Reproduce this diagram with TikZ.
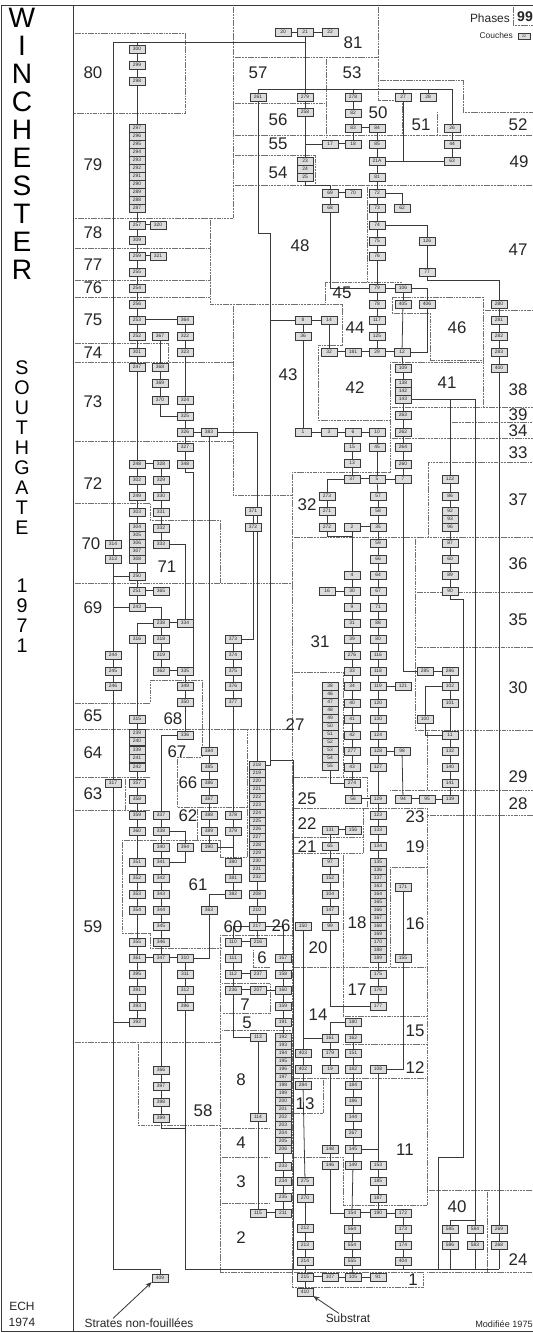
\documentclass[tikz,border=0pt]{standalone}
\usepackage{fontspec}
\setmainfont{Liberation Sans}
\usetikzlibrary{arrows.meta,backgrounds}
\definecolor{MatGrey}{HTML}{3A3A3A}
\definecolor{MatFill}{HTML}{DCDCDC}
\definecolor{MatDots}{HTML}{707070}

\tikzset{
  ctx/.style={draw=MatGrey, fill=MatFill, line width=0.7pt, minimum width=0.8cm,
    minimum height=0.38cm, inner sep=0pt, text=black!85, font=\fontsize{7}{7}\selectfont},
  link/.style={draw=MatGrey, line width=1.1pt},
  samephase/.style={draw=MatGrey, double=white, double distance=1.2pt, line width=0.7pt},
  bound/.style={draw=MatDots, line width=0.9pt, dash pattern=on 2pt off 1pt on 0.6pt off 1pt},
  phase/.style={inner sep=0pt, text=black!85, font=\fontsize{24}{24}\selectfont},
  bigletter/.style={inner sep=0pt, font=\fontsize{40}{40}\selectfont},
  midletter/.style={inner sep=0pt, font=\fontsize{28}{28}\selectfont},
  note/.style={inner sep=0pt, text=black!85},
}

\begin{document}
\begin{tikzpicture}[x=0.05cm, y=-0.05cm]
\useasboundingbox (0,0) rectangle (533,1333);

% Frame and title column
\draw[MatGrey, line width=1pt] (1,1331) -- (1,5) -- (533,5);
\draw[MatGrey, line width=1pt] (1,1331) -- (533,1331);
\draw[MatGrey, line width=1pt] (73,5) -- (73,1331);
\foreach \l [count=\i] in {W,I,N,C,H,E,S,T,E,R}
  \node[bigletter] (w\i) at (22,{18+28*(\i-1)}) {\l};
\foreach \l [count=\i] in {S,O,U,T,H,G,A,T,E}
  \node[midletter] (s\i) at (22,{368+20*(\i-1)}) {\l};
\foreach \l [count=\i] in {1,9,7,1}
  \node[midletter] (y\i) at (22,{586+20*(\i-1)}) {\l};
\node[note, font=\fontsize{17}{17}\selectfont] (ech) at (22,1306) {ECH};
\node[note, font=\fontsize{17}{17}\selectfont] (year) at (22,1322) {1974};

% Legend
\node[note, anchor=east, font=\fontsize{17}{17}\selectfont] (phases) at (510,18) {Phases};
\node[note, font=\bfseries\fontsize{20}{20}\selectfont] (p99) at (525,17) {99};
\node[note, anchor=east, font=\fontsize{12}{12}\selectfont] (couches) at (513,35) {Couches};
\node[ctx, minimum width=0.6cm, minimum height=0.3cm, font=\fontsize{5}{5}\selectfont] (legctx) at (524,36) {22};

% Contexts (couches)
\foreach \n/\x/\y in {
  20/283/32, 21/305/32, 22/330/32, 300/137/49, 299/137/65, 298/137/81,
  261/258/97, 279/305/97, 258/305/112, 278/353/97, 82/353/113, 83/353/128, 84/377/128,
  17/330/144, 18/353/144, 85/377/144, 21A/377/161, 81/377/177,
  27/403/97, 28/428/97, 26/452/128, 44/452/144, 63/452/161,
  23/305/161, 24/305/169, 25/305/177,
  69/330/193, 70/353/193, 72/377/193, 68/330/208, 73/377/208, 62/402/208,
  74/377/225, 75/377/241, 76/377/256, 126/427/241, 77/427/272,
  79/377/288, 78/377/304, 117/377/320, 125/377/336,
  106/403/288, 405/403/304, 406/427/304,
  280/499/304, 281/499/320, 282/499/336, 283/499/352, 400/499/368,
  8/303/320, 14/329/320, 36/303/336, 32/329/352, 181/353/352, 29/377/352, 12/402/352,
  109/403/368, 138/403/383, 142/403/391, 143/403/399, 263/403/415, 262/403/432,
  1/303/432, 3/329/432, 6/353/432, 10/377/432,
  15/352/447, 45/377/447, 264/403/447, 13/352/463, 260/403/464,
  37/352/479, 5/377/479, 7/403/479,
  257/137/225, 320/158/225, 309/137/240, 259/137/256, 321/158/256,
  255/137/272, 254/137/288, 256/137/304, 253/137/320, 364/185/320,
  252/137/336, 367/160/336, 322/185/336, 301/137/352, 323/185/352,
  247/137/367, 368/160/367, 369/160/383, 370/160/400, 324/185/400,
  325/185/416, 326/185/432, 383/209/432, 327/185/447,
  248/137/464, 328/161/464, 348/185/464, 302/137/480, 329/161/480,
  249/137/496, 330/161/496, 303/137/512, 331/161/512,
  304/137/527, 305/137/535, 306/137/543, 307/137/551, 308/137/559,
  332/161/528, 333/161/544, 314/113/544, 313/113/559,
  250/137/576, 251/137/591, 365/161/591, 243/137/607,
  238/161/623, 334/185/623, 316/137/639, 318/161/639,
  244/113/655, 319/161/655, 371/253/511, 372/253/527, 373/233/639, 374/233/655,
  245/113/671, 362/161/671, 335/185/671, 375/233/671,
  246/113/686, 349/185/686, 376/233/686, 350/185/702, 377/233/702,
  315/137/719, 336/185/735,
  239/137/733, 240/137/741, 339/137/750, 241/137/758, 242/137/767,
  384/209/751, 385/209/767, 386/209/783, 387/209/799,
  317/113/783, 357/137/783, 358/137/799,
  359/137/815, 337/161/815, 388/209/815, 378/233/815,
  360/137/831, 338/161/831, 389/209/831, 379/233/831,
  340/161/847, 394/185/847, 390/209/847,
  351/137/862, 341/161/862, 380/233/862,
  352/137/878, 342/161/878, 381/233/878,
  353/137/894, 343/161/894, 382/233/894,
  354/137/910, 344/161/910, 363/209/910, 345/161/926,
  355/137/942, 346/161/942, 361/137/958, 347/161/958, 310/185/958,
  395/137/974, 311/185/974, 391/137/990, 312/185/990,
  393/137/1006, 396/185/1006, 392/137/1022,
  366/161/1070, 397/161/1086, 398/161/1102, 399/161/1118,
  208/257/894, 210/257/910, 217/257/926,
  110/233/942, 216/258/942, 111/233/958, 157/283/958,
  112/233/974, 237/258/974, 158/283/974,
  236/233/990, 207/258/990, 160/283/990, 159/283/1006, 191/283/1022,
  113/258/1037, 114/258/1117,
  233/283/1166, 234/283/1181, 235/283/1197, 115/258/1213, 211/283/1213,
  273/327/496, 271/327/511, 272/327/527, 2/352/527,
  57/378/496, 58/378/511, 35/378/527, 59/378/543, 66/378/559, 64/378/575,
  67/378/591, 71/378/607, 88/378/623, 80/378/639, 116/378/655,
  4/352/575, 16/327/591, 30/352/591, 9/352/607, 31/352/623, 39/352/639, 276/352/655,
  122/450/479, 86/450/496, 92/450/511, 93/450/519, 96/450/527,
  87/450/543, 60/450/559, 89/450/575, 90/450/591,
  33/352/671, 118/378/671, 285/425/671, 286/450/671,
  34/352/686, 119/378/686, 121/403/686, 102/450/686,
  40/352/703, 120/378/703, 101/450/703,
  41/352/719, 130/378/719, 100/425/719,
  42/352/735, 124/378/735, 11/450/735,
  277/352/751, 128/378/751, 98/402/751, 132/450/751,
  43/352/767, 127/378/767, 140/450/767, 274/352/783, 141/450/783,
  56/353/799, 129/378/799, 94/403/799, 95/427/799, 139/450/799,
  123/378/815, 131/330/830, 156/353/830, 133/378/830,
  65/330/846, 134/378/846, 97/330/862, 135/378/862, 136/378/870, 137/378/878, 152/330/878,
  171/403/887, 155/403/958, 104/330/894, 147/330/910, 99/330/926, 150/303/926,
  175/378/974, 176/378/990, 177/378/1006,
  180/353/1022, 161/330/1038, 162/353/1038,
  403/303/1053, 179/330/1053, 151/353/1053,
  402/303/1069, 19/330/1069, 182/353/1069, 108/378/1069,
  284/303/1085, 184/353/1085, 186/353/1101, 144/353/1117, 267/353/1133,
  148/330/1149, 145/353/1149, 146/330/1165, 149/353/1165, 153/378/1165,
  275/305/1181, 270/305/1198, 185/378/1181, 187/378/1198,
  154/352/1213, 190/378/1213, 172/403/1213,
  212/305/1228, 213/305/1245, 214/305/1261,
  564/352/1229, 554/352/1245, 555/352/1261,
  173/403/1229, 174/403/1245, 404/403/1261,
  215/305/1277, 107/330/1277, 105/353/1277, 91/378/1277,
  410/305/1292, 409/160/1278,
  585/450/1229, 584/475/1229, 269/499/1229,
  586/450/1245, 583/475/1245, 268/499/1245}
  \node[ctx] (c\n) at (\x,\y) {\n};

% Stacked contexts
\foreach \n [count=\k from 0] in {297,296,295,294,293,292,291,290,289,288,287}
  \node[ctx] (c\n) at (137,{128+8*\k}) {\n};
\foreach \n [count=\k from 0] in {218,219,220,221,222,223,224,225,226,227,228,229,230,231,232}
  \node[ctx] (c\n) at (257,{765+8*\k}) {\n};
\foreach \n [count=\k from 0] in {192,193,194,195,196,197,198,199,200,201,202,203,204,205,206}
  \node[ctx] (c\n) at (283,{1037+8*\k}) {\n};
\foreach \n [count=\k from 0] in {38,46,47,48,49,50,51,52,53,54,55}
  \node[ctx] (c\n) at (330,{686+8*\k}) {\n};
\foreach \n [count=\k from 0] in {163,164,165,166,167,168,169,170,188,189}
  \node[ctx] (c\n) at (378,{886+8*\k}) {\n};

% Phase numbers
\foreach \p/\x/\y in {
  80/93/73, 79/93/165, 78/93/233, 77/93/265, 76/93/288, 75/93/320, 74/93/353, 73/93/402,
  72/93/484, 70/91/544, 69/93/608, 65/93/716, 64/93/753, 63/93/794, 59/93/927,
  57/258/73, 56/278/120, 55/278/144, 54/278/173, 48/300/246, 43/288/375,
  71/167/567, 68/173/719, 67/177/752, 66/188/783, 62/188/816, 61/198/885,
  60/233/927, 26/281/926, 6/262/958, 7/245/1005, 5/247/1023, 8/241/1080, 58/203/1111,
  4/241/1143, 3/241/1182, 2/241/1238,
  81/353/43, 53/352/73, 50/378/113, 51/421/125, 52/518/125, 49/519/162, 47/518/250,
  45/342/293, 44/355/328, 46/457/328, 42/355/388, 41/447/383,
  38/518/390, 39/518/415, 34/518/431, 33/518/453, 37/518/500, 36/518/564, 35/518/620,
  32/307/505, 31/320/642, 30/518/688, 27/295/725, 29/518/777, 28/518/804,
  25/307/799, 23/415/817, 22/307/824, 21/307/847, 19/415/847,
  20/318/948, 18/357/923, 16/415/924, 17/357/990, 14/318/1015, 15/415/1031,
  12/415/1068, 13/305/1104, 11/405/1150, 40/457/1207, 24/518/1260, 1/413/1280}
  \node[phase] (p\p) at (\x,\y) {\p};

% Notes at the foot
\node[note, font=\fontsize{17}{17}\selectfont] (strates) at (139,1323) {Strates non-fouillées};
\node[note, font=\fontsize{17}{17}\selectfont] (substrat) at (348,1318) {Substrat};
\node[note, font=\fontsize{13}{13}\selectfont] (modif) at (504,1324) {Modifiée 1975};
\draw[MatGrey, line width=1.2pt, -{Stealth[length=9pt,width=7pt]}] ([xshift=-1.3cm]strates.north) -- (c409.south west);
\draw[MatGrey, line width=1.2pt, -{Stealth[length=9pt,width=7pt]}] ([xshift=-0.45cm]substrat.north) -- (c410.south east);

\begin{scope}[on background layer]
% Phase boundaries
\draw[bound] (73,33) -- (185,33) -- (185,113) -- (73,113);
\draw[bound] (233,5) -- (233,218) -- (73,218);
\draw[bound] (73,248) -- (210,248);
\draw[bound] (73,280) -- (210,280);
\draw[bound] (73,297) -- (210,297);
\draw[bound] (210,218) -- (210,304) -- (342,304) -- (342,345) -- (318,345) -- (318,420) -- (390,420);
\draw[bound] (73,343) -- (168,343) -- (168,362);
\draw[bound] (73,362) -- (233,362);
\draw[bound] (73,441) -- (233,441);
\draw[bound] (233,304) -- (233,495) -- (292,495);
\draw[bound] (73,503) -- (150,503) -- (150,520) -- (220,520) -- (220,583);
\draw[bound] (73,583) -- (292,583);
\draw[bound] (292,472) -- (292,1287);
\draw[bound] (390,362) -- (390,472) -- (292,472);
\draw[bound] (392,313) -- (392,297) -- (483,297) -- (483,407);
\draw[bound] (392,313) -- (430,313) -- (430,360) -- (483,360);
\draw[bound] (390,362) -- (483,362);
\draw[bound] (390,407) -- (533,407);
\draw[bound] (483,310) -- (533,310);
\draw[bound] (450,422) -- (533,422);
\draw[bound] (390,438) -- (533,438);
\draw[bound] (428,537) -- (428,462) -- (533,462);
\draw[bound] (292,537) -- (533,537);
\draw[bound] (415,592) -- (533,592);
\draw[bound] (415,647) -- (533,647);
\draw[bound] (415,537) -- (415,730) -- (533,730);
\draw[bound] (427,730) -- (427,790);
\draw[bound] (390,790) -- (533,790);
\draw[bound] (428,815) -- (533,815);
\draw[bound] (292,672) -- (343,672) -- (343,777);
\draw[bound] (292,777) -- (367,777) -- (367,808);
\draw[bound] (292,808) -- (427,808) -- (427,1205) -- (343,1205) -- (343,1157) -- (292,1157);
\draw[bound] (292,837) -- (363,837);
\draw[bound] (292,853) -- (363,853) -- (363,808);
\draw[bound] (390,867) -- (427,867);
\draw[bound] (390,867) -- (390,967);
\draw[bound] (343,853) -- (343,1016);
\draw[bound] (292,967) -- (427,967);
\draw[bound] (343,1016) -- (427,1016);
\draw[bound] (343,1044) -- (427,1044);
\draw[bound] (292,1078) -- (427,1078);
\draw[bound] (292,1113) -- (323,1113) -- (323,1078);
\draw[bound] (292,1272) -- (423,1272) -- (423,1287) -- (292,1287);
\draw[bound] (427,1190) -- (533,1190);
\draw[bound] (487,1190) -- (487,1272);
\draw[bound] (427,1272) -- (533,1272);
\draw[bound] (73,703) -- (150,703) -- (150,680) -- (202,680) -- (202,757) -- (177,757);
\draw[bound] (73,729) -- (292,729);
\draw[bound] (73,777) -- (150,777);
\draw[bound] (73,810) -- (150,810);
\draw[bound] (125,777) -- (125,810);
\draw[bound] (177,757) -- (177,807) -- (247,807) -- (247,729);
\draw[bound] (197,807) -- (197,840) -- (220,840) -- (220,857) -- (247,857) -- (247,807);
\draw[bound] (122,840) -- (197,840);
\draw[bound] (122,840) -- (122,933) -- (150,933) -- (150,948) -- (222,948);
\draw[bound] (220,935) -- (292,935);
\draw[bound] (220,935) -- (220,1272) -- (292,1272);
\draw[bound] (73,1042) -- (220,1042);
\draw[bound] (138,1042) -- (138,1125) -- (220,1125);
\draw[bound] (253,950) -- (253,967) -- (270,967);
\draw[bound] (222,983) -- (270,983) -- (270,1013) -- (222,1013);
\draw[bound] (222,1030) -- (292,1030);
\draw[bound] (220,1128) -- (270,1128);
\draw[bound] (220,1157) -- (270,1157);
\draw[bound] (220,1203) -- (270,1203);
\draw[bound] (233,57) -- (378,57);
\draw[bound] (378,5) -- (378,100) -- (402,100) -- (402,135);
\draw[bound] (326,57) -- (326,137);
\draw[bound] (233,103) -- (326,103);
\draw[bound] (233,135) -- (533,135);
\draw[bound] (233,155) -- (315,155) -- (315,185);
\draw[bound] (233,185) -- (533,185);
\draw[bound] (378,80) -- (463,80) -- (463,112) -- (533,112);
\draw[bound] (437,112) -- (437,135);
\draw[bound] (367,185) -- (367,282);
\draw[bound] (325,303) -- (325,282) -- (402,282);
\draw[bound] (513,5) -- (513,25) -- (533,25);

% Straight links
\foreach \a/\b in {
  20/21, 21/22, 21/279, 279/258, 258/23, 23/24, 24/25,
  300/299, 299/298, 298/297, 297/287, 287/257, 257/309, 309/259, 259/255, 255/254,
  254/256, 256/253, 253/252, 252/301, 301/247, 247/248, 248/302, 302/249, 249/303,
  303/304, 304/308, 308/250, 250/251, 251/243,
  367/368, 368/369, 369/370, 364/322, 322/323, 323/324, 324/325, 325/326, 326/327, 327/348,
  328/329, 329/330, 330/331, 331/332, 332/333, 314/313, 238/318, 318/319, 319/362,
  335/349, 349/350, 350/336, 316/315, 315/239, 239/242, 242/357, 357/358, 358/359,
  359/360, 360/351, 351/352, 352/353, 353/354, 354/355, 355/361, 361/395, 395/391,
  391/393, 393/392, 337/338, 338/340, 340/341, 341/342, 342/343, 343/344, 344/345,
  345/346, 346/347, 347/366, 366/397, 397/398, 398/399, 310/311, 311/312, 312/396,
  383/384, 384/390, 373/382, 371/372, 218/232, 232/208, 208/210, 210/217, 217/216,
  110/111, 111/112, 112/236, 157/158, 158/160, 160/159, 159/191, 191/192, 192/206,
  206/233, 233/234, 234/235, 235/211, 113/114, 114/115, 207/160,
  278/82, 82/83, 83/18, 84/85, 85/21A, 21A/81, 81/72, 72/73, 73/74, 74/75, 75/76,
  76/79, 79/78, 78/117, 117/125, 125/29, 126/77, 26/44, 44/63, 21A/63, 69/68,
  106/405, 405/12, 280/281, 281/282, 282/283, 283/400, 400/269, 269/268,
  8/36, 8/14, 14/32, 36/1, 12/109, 109/138, 138/143, 143/263, 263/262, 262/264,
  264/260, 260/7, 1/3, 3/6, 6/10, 6/15, 10/45, 15/13, 13/37, 45/5, 5/7,
  273/271, 271/272, 2/4, 5/57, 57/58, 58/35, 35/59, 59/66, 66/64, 64/67, 67/71,
  71/88, 88/80, 80/116, 116/118, 118/119, 119/121, 119/120, 120/130, 130/124,
  124/128, 128/127, 127/129, 98/94, 4/30, 16/30, 30/9, 9/31, 31/39, 39/276, 276/33,
  33/34, 34/40, 40/41, 41/42, 42/277, 277/43, 43/274, 274/56, 95/139,
  285/286, 286/102, 102/101, 101/11, 11/132, 132/140, 140/141, 141/139,
  122/86, 86/92, 92/96, 96/87, 87/60, 60/89, 89/90, 38/55,
  129/123, 123/133, 133/134, 134/135, 135/137, 137/163, 163/189, 189/175, 175/176, 176/177,
  131/65, 65/97, 97/152, 152/104, 104/147, 147/99, 171/155, 180/162, 162/151,
  151/182, 182/184, 184/186, 186/144, 144/267, 267/145, 145/149, 149/154, 154/564,
  564/554, 554/555, 555/105, 190/172, 161/179, 179/19, 19/148, 148/146,
  403/402, 402/284, 284/275, 275/270, 270/212, 212/213, 213/214, 214/215, 107/105,
  105/91, 215/410, 153/185, 185/187, 187/190, 172/173, 173/174, 174/404, 585/586, 584/583}
  \draw[link] (c\a) -- (c\b);

% Links with one bend
\foreach \a/\b in {68/106, 370/325, 372/373, 363/310, 236/113, 155/108, 99/177,
  150/161, 108/145, 394/341, 313/250, 406/12, 7/285, 146/154, 258/17, 55/274, 100/11}
  \draw[link] (c\a) |- (c\b);
\foreach \a/\b in {326/218, 74/126, 106/406, 217/157, 217/110, 243/244, 243/238, 238/316,
  336/337, 338/394, 390/380, 382/363, 333/334, 37/273, 143/122, 143/584, 180/161,
  161/403, 102/100, 128/98, 72/62, 145/153}
  \draw[link] (c\a) -| (c\b);

% Contemporary contexts
\foreach \a/\b in {257/320, 259/321, 253/364, 248/328, 251/365, 238/334, 362/335,
  361/347, 347/310, 110/216, 112/237, 236/207, 115/211, 83/84, 17/18, 69/70, 32/181,
  181/29, 29/12, 37/5, 2/35, 56/129, 94/95, 131/156, 215/107, 154/190}
  \draw[samephase] (c\a) -- (c\b);

% Long runs
\coordinate (tl1) at (113,42);
\coordinate (tl2) at (113,1269);
\coordinate (b89) at (452,89);
\coordinate (r1) at (270,233);
\coordinate (r2) at (293,760);
\coordinate (v1) at (463,1157);
\coordinate (bus2) at (438,1269);
\coordinate (bus3) at (499,1269);
\coordinate (b40) at (475,1220);
\draw[link] (c21) |- (tl1) -- (tl2) -| (c409);
\draw[link] (c300) -- (c300 |- tl1);
\draw[link] (c392) -- (c392 -| tl1);
\draw[link] (c261) |- (b89) -- (c26);
\draw[link] (c261) |- (r1) |- (c8);
\draw[link] (r1) |- (r2) -- (r2 |- bus3);
\draw[link] (c218.east) -| (r1 |- r2);
\draw[link] (c278) -- (c278 |- b89);
\draw[link] (c27) -- (c27 |- b89);
\draw[link] (c28) -- (c28 |- b89);
\draw[link] (c27) -- (c27 |- c21A);
\draw[link] (c25) -- ++(0,8) -| (c69);
\draw[link] (c77) -- ++(0,8) -| (c280);
\draw[link] (c272) -- ++(0,9) -| (c4);
\draw[link] (c348) -- ++(0,8) -| (c335.north east);
\draw[link] (c399) -- ++(0,10) -| (c396);
\draw[link] (c90) -- ++(0,8) -| (v1) -| (bus2);
\draw[link] (c396) |- (bus3);
\draw[link] (c404) -- (c404 |- bus3);
\draw[link] (c586) -- (c586 |- bus3);
\draw[link] (c583) -- (c583 |- bus3);
\draw[link] (c268) -- (c268 |- bus3);
\draw[link] (c215) -- (c215 |- bus3);
\draw[link] (c585) |- (b40);
\end{scope}
\end{tikzpicture}
\end{document}
